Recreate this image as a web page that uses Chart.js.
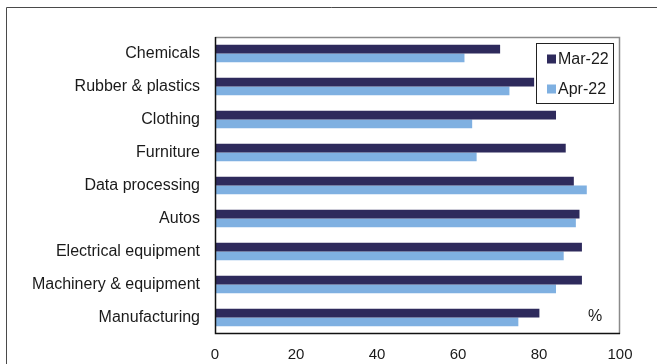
<!DOCTYPE html>
<html>
<head>
<meta charset="utf-8">
<script src="https://cdn.jsdelivr.net/npm/chart.js@4/dist/chart.umd.min.js"></script>
<style>
  html, body { margin: 0; padding: 0; background: #fff; }
  #wrap { position: relative; width: 657px; height: 364px; }
</style>
</head>
<body>
<div id="wrap"><canvas id="c" width="657" height="364"></canvas></div>
<script>
// Sectors, top to bottom
const categories = [
  "Chemicals", "Rubber & plastics", "Clothing", "Furniture", "Data processing",
  "Autos", "Electrical equipment", "Machinery & equipment", "Manufacturing"
];
const seriesNames = ["Mar-22", "Apr-22"];
// Capacity utilisation, %
const mar22 = [70.4, 78.8, 84.2, 86.6, 88.6, 90.0, 90.6, 90.6, 80.1];
const apr22 = [61.6, 72.7, 63.5, 64.6, 91.8, 89.1, 86.1, 84.2, 74.9];
const xTicks = [0, 20, 40, 60, 80, 100];

const DARK = "#2e2a5c";
const LIGHT = "#7fb0e1";
const FONT = "'Liberation Sans', Arial, sans-serif";

// Outer frame, plot border, unit label and boxed legend
const decor = {
  id: "decor",
  beforeDraw(chart) {
    const ctx = chart.ctx;
    ctx.save();
    ctx.strokeStyle = "#4a4a4a";
    ctx.lineWidth = 1;
    ctx.beginPath();
    ctx.moveTo(6.5, 364);
    ctx.lineTo(6.5, 7.5);
    ctx.lineTo(657, 7.5);
    ctx.stroke();
    ctx.restore();
  },
  afterDatasetsDraw(chart) {
    const ctx = chart.ctx;
    const a = chart.chartArea;
    ctx.save();
    // top and right edges in grey
    ctx.strokeStyle = "#8a8a8a";
    ctx.lineWidth = 1.5;
    ctx.beginPath();
    ctx.moveTo(a.left, a.top + 0.5);
    ctx.lineTo(a.right - 0.5, a.top + 0.5);
    ctx.lineTo(a.right - 0.5, a.bottom);
    ctx.stroke();
    // left and bottom axis lines in black
    ctx.strokeStyle = "#111";
    ctx.lineWidth = 1.5;
    ctx.beginPath();
    ctx.moveTo(a.left + 0.5, a.top);
    ctx.lineTo(a.left + 0.5, a.bottom - 0.5);
    ctx.lineTo(a.right, a.bottom - 0.5);
    ctx.stroke();

    // unit label
    ctx.fillStyle = "#1a1a1a";
    ctx.font = "16px " + FONT;
    ctx.textAlign = "center";
    ctx.textBaseline = "middle";
    ctx.fillText("%", 595, 317);

    // legend box
    const lx = 536, ly = 43, lw = 77, lh = 60;
    ctx.fillStyle = "#fff";
    ctx.fillRect(lx, ly, lw, lh);
    ctx.strokeStyle = "#222";
    ctx.lineWidth = 1;
    ctx.strokeRect(lx + 0.5, ly + 0.5, lw, lh);
    const rows = [59, 89];
    chart.data.datasets.forEach((ds, i) => {
      ctx.fillStyle = ds.backgroundColor;
      ctx.fillRect(547, rows[i] - 4.5, 9, 9);
      ctx.fillStyle = "#1a1a1a";
      ctx.textAlign = "left";
      ctx.fillText(ds.label, 558, rows[i] + 0.5);
    });
    ctx.restore();
  }
};

new Chart(document.getElementById("c"), {
  type: "bar",
  data: {
    labels: categories,
    datasets: [
      { label: seriesNames[0], data: mar22, backgroundColor: DARK, borderWidth: 0 },
      { label: seriesNames[1], data: apr22, backgroundColor: LIGHT, borderWidth: 0 }
    ]
  },
  options: {
    indexAxis: "y",
    responsive: false,
    animation: false,
    devicePixelRatio: 1,
    layout: { padding: { top: 37, right: 37, left: 0, bottom: 0 } },
    datasets: { bar: { categoryPercentage: 0.525, barPercentage: 1.0 } },
    plugins: { legend: { display: false }, tooltip: { enabled: false } },
    scales: {
      x: {
        type: "linear",
        min: 0, max: 100,
        afterBuildTicks(scale) { scale.ticks = xTicks.map(v => ({ value: v })); },
        afterFit(scale) { scale.height = 30; },
        grid: { display: false, drawTicks: false },
        border: { display: false },
        ticks: { padding: 12, color: "#1a1a1a", font: { family: FONT, size: 15 }, maxRotation: 0 }
      },
      y: {
        type: "category",
        afterFit(scale) { scale.width = 215; },
        grid: { display: false, drawTicks: false },
        border: { display: false },
        ticks: { padding: 15, color: "#1a1a1a", font: { family: FONT, size: 16 }, autoSkip: false }
      }
    }
  },
  plugins: [decor]
});
</script>
</body>
</html>
